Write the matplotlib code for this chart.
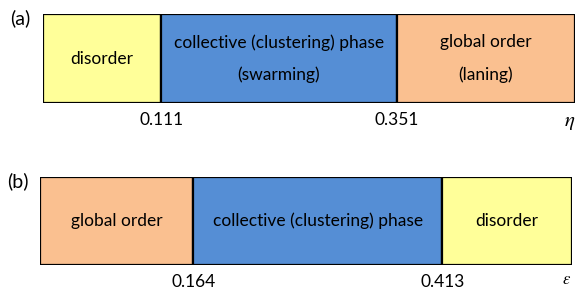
import matplotlib
matplotlib.use("Agg")
import matplotlib.pyplot as plt

plt.rcParams['font.family'] = ['Lato', 'DejaVu Sans']
plt.rcParams['mathtext.fontset'] = 'stix'

# pannello (a): rumore eta
phases_a = ["disorder", "collective (clustering) phase\n\n(swarming)", "global order\n\n(laning)"]
colors_a = ["#FFFF99", "#558ED5", "#FAC090"]
edges_a = [0.0, 0.222, 0.665, 1.0]          # confini schematici (non in scala)
ticks_a = ["0.111", "0.351"]

# pannello (b): epsilon
phases_b = ["global order", "collective (clustering) phase", "disorder"]
colors_b = ["#FAC090", "#558ED5", "#FFFF99"]
edges_b = [0.0, 0.288, 0.756, 1.0]
ticks_b = ["0.164", "0.413"]

fig = plt.figure(figsize=(5.79, 2.89), dpi=100)


def draw_panel(rect, phases, colors, edges, ticks, letter, var, var_size, var_y):
    ax = fig.add_axes(rect)
    lefts = edges[:-1]
    widths = [edges[i + 1] - edges[i] for i in range(len(lefts))]
    ax.barh(0.5, widths, left=lefts, height=1.0, color=colors,
            edgecolor="black", linewidth=1.6)
    for i, txt in enumerate(phases):
        ax.text(lefts[i] + widths[i] / 2, 0.5, txt, ha="center", va="center",
                fontsize=12.5, linespacing=0.98)
    for x, t in zip(edges[1:-1], ticks):
        ax.text(x, -0.19, t, ha="center", va="center", fontsize=12.5, clip_on=False)
    ax.text(0.99, var_y, var, ha="center", va="center", fontsize=var_size, clip_on=False)
    ax.text(-0.042, 0.95, letter, ha="center", va="center", fontsize=14, clip_on=False)
    ax.set_xlim(0, 1)
    ax.set_ylim(0, 1)
    ax.axis("off")
    return ax


draw_panel([43 / 579, 1 - 103 / 289, 532 / 579, 89 / 289],
           phases_a, colors_a, edges_a, ticks_a, "(a)", r"$\eta$", 15, -0.21)
draw_panel([40 / 579, 1 - 265 / 289, 532 / 579, 88 / 289],
           phases_b, colors_b, edges_b, ticks_b, "(b)", r"$\varepsilon$", 12, -0.16)

fig.savefig("out.png", dpi=100)
